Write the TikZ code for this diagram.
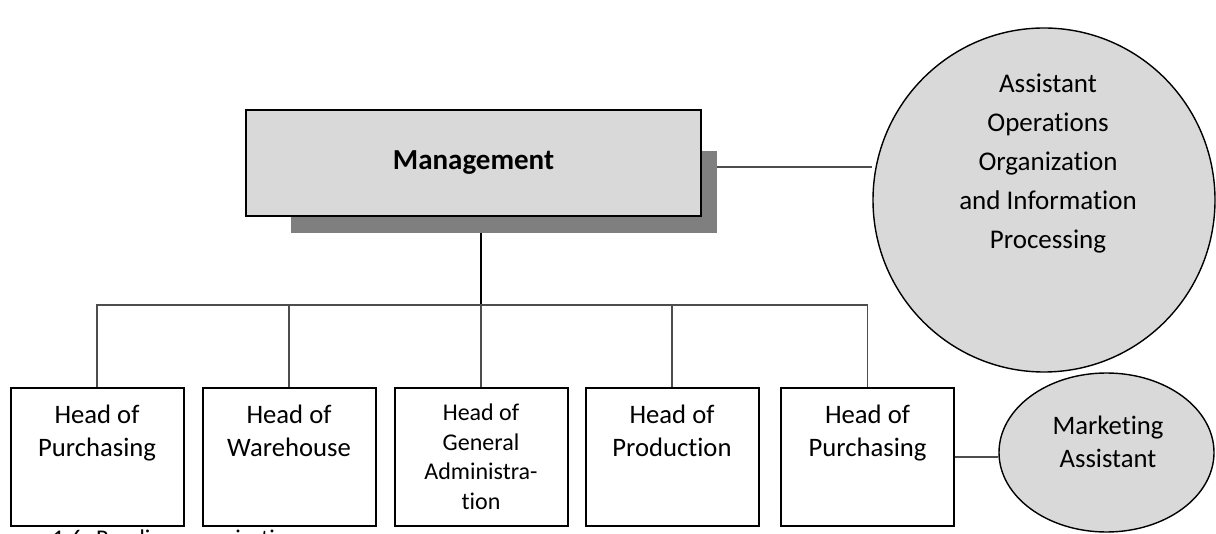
\documentclass[tikz,border=0pt]{standalone}
\usepackage{fontspec}
\setmainfont{Carlito}[Ligatures=NoCommon]
\usetikzlibrary{shapes.geometric,backgrounds}
\definecolor{boxgray}{HTML}{D9D9D9}
\definecolor{shadowgray}{HTML}{7F7F7F}
\definecolor{linegray}{HTML}{4D4D4D}

\begin{document}
\begin{tikzpicture}[x=1pt,y=-1pt,
  headbox/.style={draw=black,line width=2pt,fill=white,minimum width=173pt,
    minimum height=138pt,inner sep=0pt},
  headtext/.style={anchor=north,inner sep=0pt,align=center,
    font=\fontsize{26.67}{32.5}\selectfont},
  smalltext/.style={anchor=north,inner sep=0pt,align=center,
    font=\fontsize{24}{29.5}\selectfont},
  bubble/.style={ellipse,draw=black,line width=1.4pt,fill=boxgray,inner sep=0pt},
  conn/.style={draw=linegray,line width=1.1pt},
  trunk/.style={draw=black,line width=2pt}]
\useasboundingbox (0,0) rectangle (1216,534);

% management box with its drop shadow
\node[fill=shadowgray,minimum width=426pt,minimum height=82pt,inner sep=0pt]
  (mgsh) at (504,192) {};
\node[draw=black,line width=2pt,fill=boxgray,minimum width=455pt,
  minimum height=106pt,inner sep=0pt,font=\fontsize{29}{35}\bfseries\selectfont]
  (mg) at (473.5,163) {Management};

% staff positions
\node[bubble,minimum width=342pt,minimum height=344pt] (ae) at (1044,200) {};
\node[anchor=north,inner sep=0pt,align=center,font=\fontsize{27}{39}\selectfont]
  (aet) at (1048,74) {Assistant\\Operations\\Organization\\and Information\\Processing};
\node[bubble,minimum width=215pt,minimum height=159pt] (ma) at (1106.5,452.5) {};
\node[headtext] (mat) at (1108,416) {Marketing\\Assistant};

% department heads
\node[headbox] (h1) at (97,457) {};
\node[headbox] (h2) at (289,457) {};
\node[headbox] (h3) at (481,457) {};
\node[headbox] (h4) at (672,457) {};
\node[headbox] (h5) at (867.5,457) {};
\node[headtext] (h1t) at (h1.north) [yshift=-18pt] {Head of\\Purchasing};
\node[headtext] (h2t) at (h2.north) [yshift=-18pt] {Head of\\Warehouse};
\node[smalltext] (h3t) at (h3.north) [yshift=-17pt] {Head of\\General\\Administra-\\tion};
\node[headtext] (h4t) at (h4.north) [yshift=-18pt] {Head of\\Production};
\node[headtext] (h5t) at (h5.north) [yshift=-18pt] {Head of\\Purchasing};

\coordinate (bus) at (481,305);

% reporting lines
\begin{scope}[on background layer]
  \draw[trunk] (mgsh.south -| bus) -- (bus);
  \foreach \n in {h1,h2,h3,h4,h5} \draw[conn] (bus) -| (\n.north);
  \draw[conn] (mgsh.east |- 0,167) -- (ae.west |- 0,167);
  \draw[conn] (h5.east) -- (h5.east -| ma.west);
\end{scope}

% caption, cut by the lower edge
\begin{scope}
  \clip (0,0) rectangle (1216,534);
  \node[anchor=base west,inner sep=0pt,font=\fontsize{24}{29}\selectfont]
    (cap) at (52,546) {1.6: Reading organization};
\end{scope}
\end{tikzpicture}
\end{document}
